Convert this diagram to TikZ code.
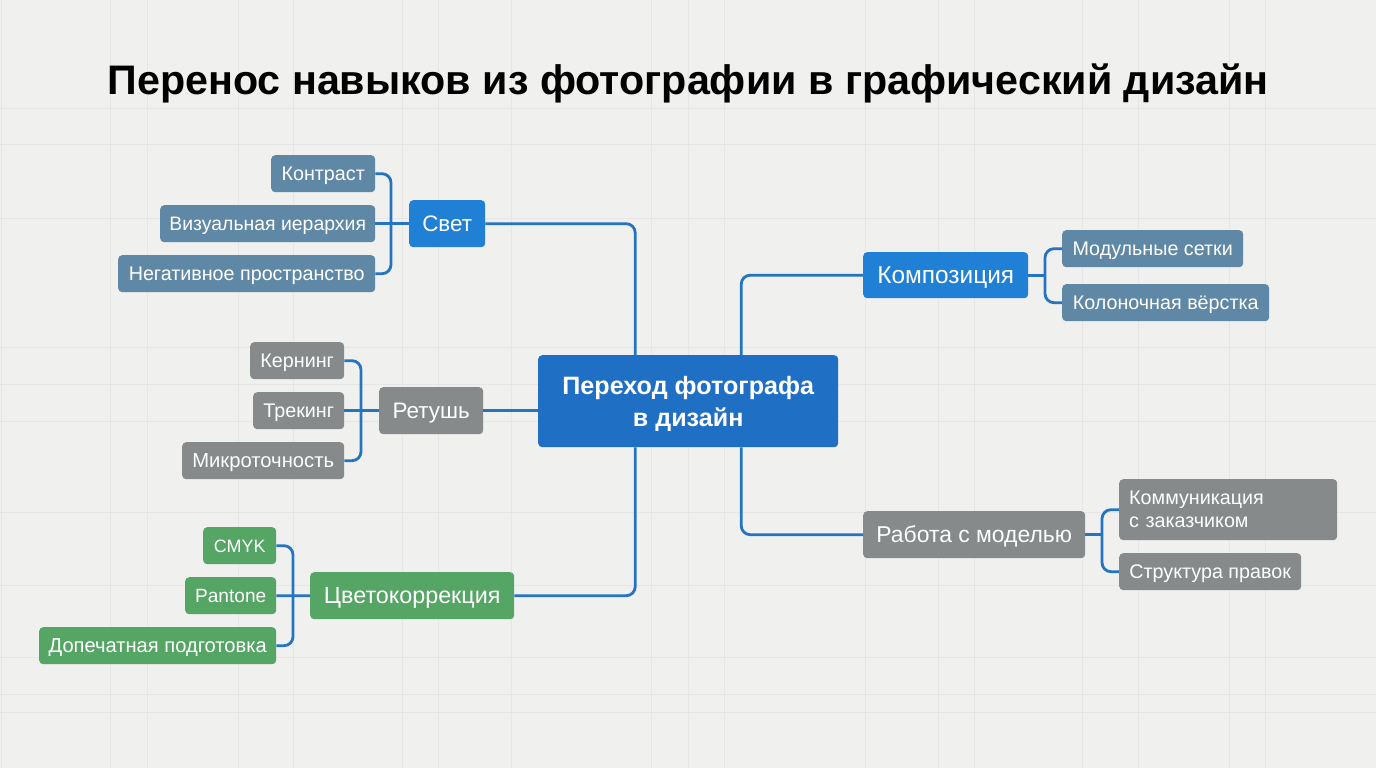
\documentclass[tikz,border=0pt]{standalone}
\usepackage{fontspec}
\setmainfont{Liberation Sans}
\definecolor{bgc}{HTML}{F0F0EF}
\definecolor{gridc}{HTML}{E6E6E6}
\definecolor{linec}{HTML}{2474C2}
\definecolor{centerc}{HTML}{1F6FC4}
\definecolor{bluec}{HTML}{2080D6}
\definecolor{steelc}{HTML}{5F88A6}
\definecolor{grayc}{HTML}{868A8B}
\definecolor{greenc}{HTML}{55A664}
\tikzset{
  x=1bp,y=-1bp,
  box/.style={rounded corners=4bp,inner sep=0pt,text=white,align=center,anchor=north west},
  leaf/.style={box,font=\fontsize{#1}{24}\selectfont,text height=16bp,text depth=3bp},
  leaf/.default=19.8,
  branch/.style={box,font=\fontsize{#1}{28}\selectfont,text height=20bp,text depth=4bp},
  branch/.default=22.5,
  conn/.style={draw=linec,line width=2.8bp,rounded corners=9bp},
  gridline/.style={draw=gridc,line width=1bp},
}
\newcommand{\bx}[7]{\node[#1,fill=#2,minimum width=#5bp-#3bp,minimum height=#6bp-#4bp] (#7) at (#3,#4)}
\begin{document}
\begin{tikzpicture}
\useasboundingbox (0,0) rectangle (1376,768);
\fill[bgc] (0,0) rectangle (1376,768);
\foreach \gx in {1,110,147,238,293,402,438,511,651,688,724,865,938,974,1082,1138,1229,1265}
  \draw[gridline] (\gx,0) -- (\gx,768);
\foreach \gy in {108,144,218,347,384,421,512,585,657,694,712}
  \draw[gridline] (0,\gy) -- (1376,\gy);

\node[font=\bfseries\fontsize{41.4}{50}\selectfont,text=black,inner sep=0pt] (title) at (688,83) {Перенос навыков из фотографии в графический дизайн};

\bx{box,font=\bfseries\fontsize{25.2}{32}\selectfont}{centerc}{538}{355}{838}{447}{center} {\rule{0pt}{24bp}Переход фотографа\\в дизайн};

\bx{branch}{bluec}{409}{200}{485}{247}{svet} {Свет};
\bx{leaf}{steelc}{271}{155}{375}{192}{kontrast} {Контраст};
\bx{leaf=19.5}{steelc}{160}{205}{375}{242}{viz} {Визуальная иерархия};
\bx{leaf}{steelc}{118}{255}{375}{292}{neg} {Негативное пространство};

\bx{branch}{grayc}{379}{387}{483}{434}{retush} {Ретушь};
\bx{leaf}{grayc}{250}{342}{344}{379}{kern} {Кернинг};
\bx{leaf}{grayc}{253}{392}{344}{429}{trek} {Трекинг};
\bx{leaf=20.3}{grayc}{182}{442}{344}{479}{micro} {Микроточность};

\bx{branch=23.4}{greenc}{310}{572}{514}{619}{color} {Цветокоррекция};
\bx{leaf=18}{greenc}{203}{527}{276}{564}{cmyk} {CMYK};
\bx{leaf=19.2}{greenc}{185}{577}{276}{614}{pantone} {Pantone};
\bx{leaf=20.2}{greenc}{39}{627}{276}{664}{prepress} {Допечатная подготовка};

\bx{branch=24.5}{bluec}{863}{252}{1028}{298}{comp} {Композиция};
\bx{leaf}{steelc}{1062}{230}{1243}{267}{mod} {Модульные сетки};
\bx{leaf}{steelc}{1062}{284}{1269}{321}{kol} {Колоночная вёрстка};

\bx{branch=23}{grayc}{863}{511}{1085}{558}{model} {Работа с моделью};
\bx{box,font=\fontsize{19.8}{23}\selectfont,align=left,text width=198bp}{grayc}{1119}{479}{1337}{540}{komm} {Коммуникация\\с заказчиком};
\bx{leaf}{grayc}{1119}{553}{1301}{590}{strukt} {Структура правок};

\coordinate (j1) at (391,224);
\coordinate (j2) at (361,410);
\coordinate (j3) at (293,596);
\coordinate (j4) at (1045,275);
\coordinate (j5) at (1102,534);

\draw[conn] ([xshift=-53bp]center.north) |- (svet.east);
\draw[conn] (center.west |- retush.east) -- (retush.east);
\draw[conn] ([xshift=-53bp]center.south) |- (color.east);
\draw[conn] ([xshift=53bp]center.north) |- (comp.west);
\draw[conn] ([xshift=53bp]center.south) |- (model.west);

\draw[conn] (svet.west |- viz.east) -- (viz.east);
\draw[conn] (kontrast.east) -| (j1) |- (neg.east);
\draw[conn] (retush.west |- trek.east) -- (trek.east);
\draw[conn] (kern.east) -| (j2) |- (micro.east);
\draw[conn] (color.west) -- (pantone.east);
\draw[conn] (cmyk.east) -| (j3) |- (prepress.east);
\draw[conn] (comp.east) -- (comp.east -| j4);
\draw[conn] (mod.west) -| (j4) |- (kol.west);
\draw[conn] (model.east) -- (model.east -| j5);
\draw[conn] (komm.west) -| (j5) |- (strukt.west);
\end{tikzpicture}
\end{document}
